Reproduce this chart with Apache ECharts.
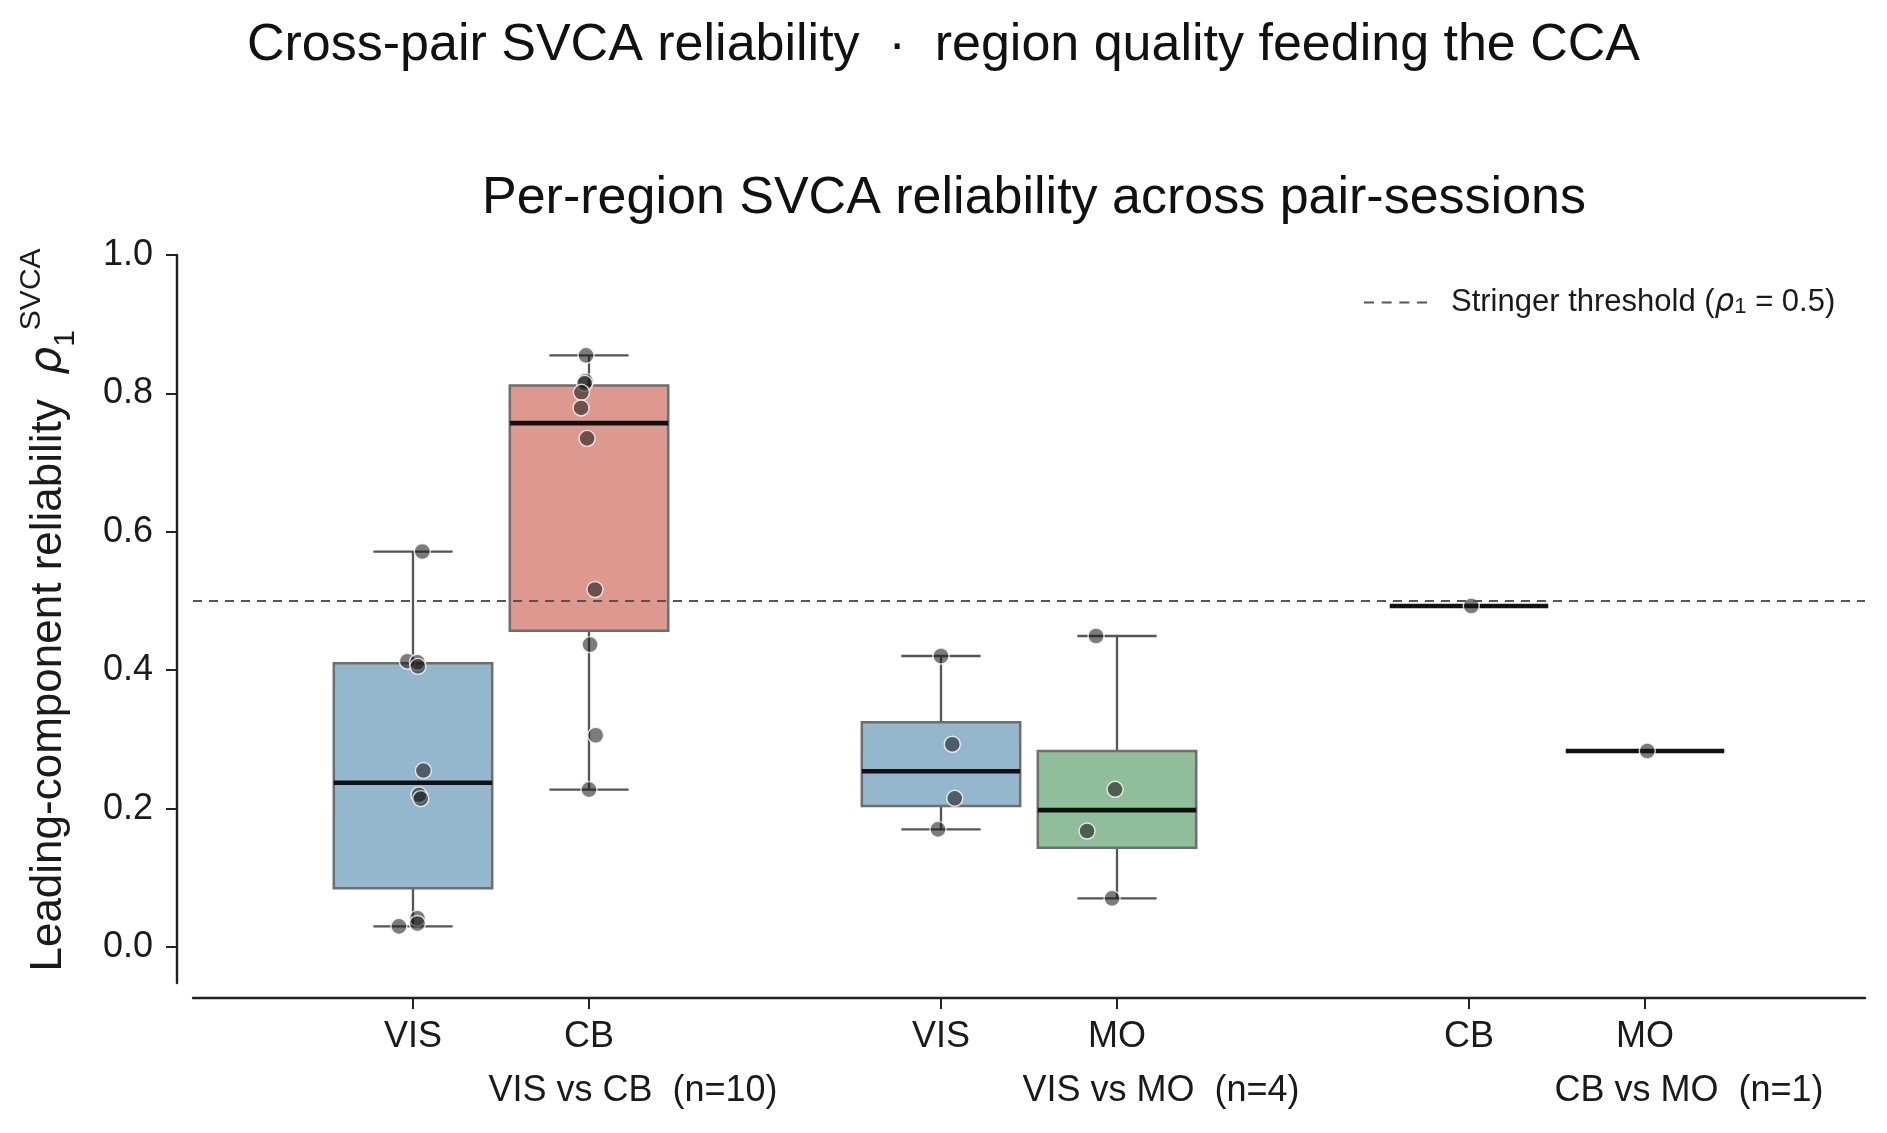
<!DOCTYPE html>
<html>
<head>
<meta charset="utf-8">
<title>Cross-pair SVCA reliability</title>
<script src="https://cdn.jsdelivr.net/npm/echarts@6/dist/echarts.min.js"></script>
<style>
  html, body { margin: 0; padding: 0; background: #fff; }
  #chart { width: 1887px; height: 1133px; }
</style>
</head>
<body>
<div id="chart"></div>
<script>
// 区域 / 配对
const pairLabels = ['VIS vs CB  (n=10)', 'VIS vs MO  (n=4)', 'CB vs MO  (n=1)'];
const pairLabelPositions = [1.25, 4.25, 7.25];
const regionLabels = ['VIS', 'CB', 'VIS', 'MO', 'CB', 'MO'];
const regionPositions = [0, 1, 3, 4, 6, 7];
const yTicks = [0, 0.2, 0.4, 0.6, 0.8, 1.0];
const threshold = 0.5;

// 每个 pair-session 的 rho_1 值
const visCbVIS = [0.5715, 0.413, 0.4115, 0.4056, 0.255, 0.2198, 0.2145, 0.0416, 0.034, 0.0298];
const visCbCB = [0.855, 0.8177, 0.8146, 0.8016, 0.779, 0.735, 0.5166, 0.437, 0.306, 0.2275];
const visMoVIS = [0.4205, 0.293, 0.2149, 0.170];
const visMoMO = [0.4494, 0.2279, 0.1676, 0.0703];
const cbMoCB = [0.4928];
const cbMoMO = [0.2832];

// stripplot 的水平抖动（类别单位）
const visCbVISJitter = [0.053, -0.032, 0.025, 0.028, 0.059, 0.034, 0.044, 0.025, 0.025, -0.08];
const visCbCBJitter = [-0.017, -0.02, -0.025, -0.043, -0.045, -0.011, 0.034, 0.006, 0.038, 0];
const visMoVISJitter = [0, 0.064, 0.078, -0.017];
const visMoMOJitter = [-0.119, -0.011, -0.17, -0.028];
const cbMoCBJitter = [0.013];
const cbMoMOJitter = [0.013];

const regionValues = [visCbVIS, visCbCB, visMoVIS, visMoMO, cbMoCB, cbMoMO];
const regionJitter = [visCbVISJitter, visCbCBJitter, visMoVISJitter, visMoMOJitter, cbMoCBJitter, cbMoMOJitter];

const COLORS = { VIS: '#94B7CE', CB: '#DD9890', MO: '#91BE9A' };
const FONT = '"Liberation Sans", Arial, Helvetica, sans-serif';
const TEXT = '#1a1a1a';
const X_MIN = -1.25, X_MAX = 8.25;
const BOX_W = 0.9;
const CAP_W = 0.45;
// 图例里的虚线图标（4 段）
const DASH_ICON = 'path://M0,0H9V2H0Z M16,0H25V2H16Z M32,0H41V2H32Z M48,0H57V2H48Z';

// 线性插值分位数（同 numpy）
function quantile(sorted, p) {
  const idx = (sorted.length - 1) * p;
  const lo = Math.floor(idx), hi = Math.ceil(idx);
  return sorted[lo] + (sorted[hi] - sorted[lo]) * (idx - lo);
}

function boxStats(values) {
  const s = values.slice().sort((a, b) => a - b);
  const q1 = quantile(s, 0.25), med = quantile(s, 0.5), q3 = quantile(s, 0.75);
  const iqr = q3 - q1;
  const lo = s.find((v) => v >= q1 - 1.5 * iqr);
  const hi = s.slice().reverse().find((v) => v <= q3 + 1.5 * iqr);
  return [lo, q1, med, q3, hi];
}

const boxData = regionValues.map((vals, i) => [regionPositions[i], ...boxStats(vals), i]);
const pointData = regionValues.flatMap((vals, i) =>
  vals.map((v, j) => [regionPositions[i] + regionJitter[i][j], v])
);

const chart = echarts.init(document.getElementById('chart'), null, { renderer: 'canvas' });

const option = {
  animation: false,
  backgroundColor: '#fff',
  textStyle: { fontFamily: FONT, color: TEXT },
  title: [
    {
      text: 'Cross-pair SVCA reliability  ·  region quality feeding the CCA',
      left: 'center',
      top: 15,
      textStyle: { fontFamily: FONT, fontSize: 52, fontWeight: 'normal', color: '#111' },
    },
    {
      text: 'Per-region SVCA reliability across pair-sessions',
      left: 1029,
      textAlign: 'center',
      top: 168,
      textStyle: { fontFamily: FONT, fontSize: 52, fontWeight: 'normal', color: '#111' },
    },
  ],
  legend: {
    left: 1359,
    top: 282,
    itemWidth: 63,
    itemHeight: 2.4,
    data: [{ name: 'Stringer threshold', icon: DASH_ICON }],
    itemStyle: { color: '#555', borderWidth: 0 },
    formatter: () => 'Stringer threshold ({rho|ρ}{sub|1} = 0.5)',
    textStyle: {
      fontFamily: FONT,
      fontSize: 31,
      color: TEXT,
      padding: [0, 0, 0, 19],
      rich: {
        rho: { fontFamily: '"DejaVu Sans"', fontStyle: 'italic', fontSize: 31, color: TEXT },
        sub: { fontSize: 22, verticalAlign: 'bottom', lineHeight: 22, color: TEXT },
      },
    },
  },
  grid: { left: 193, right: 22, top: 255, bottom: 150, containLabel: false },
  xAxis: [
    {
      type: 'value',
      min: X_MIN,
      max: X_MAX,
      offset: 15,
      splitLine: { show: false },
      axisLine: { show: true, onZero: false, lineStyle: { color: '#222', width: 2.4 } },
      axisTick: {
        show: true,
        customValues: regionPositions,
        length: 11,
        lineStyle: { color: '#222', width: 2 },
      },
      axisLabel: {
        customValues: regionPositions,
        formatter: (v) => regionLabels[regionPositions.indexOf(v)],
        fontFamily: FONT,
        fontSize: 36,
        color: TEXT,
        margin: 21,
      },
    },
    {
      type: 'value',
      position: 'bottom',
      min: X_MIN,
      max: X_MAX,
      offset: 15,
      splitLine: { show: false },
      axisLine: { show: false, onZero: false },
      axisTick: { show: false },
      axisLabel: {
        customValues: pairLabelPositions,
        formatter: (v) => pairLabels[pairLabelPositions.indexOf(v)],
        fontFamily: FONT,
        fontSize: 36,
        color: TEXT,
        margin: 75,
      },
    },
  ],
  yAxis: {
    type: 'value',
    min: -0.052,
    max: 1.0,
    offset: 16,
    splitLine: { show: false },
    axisLine: { show: true, onZero: false, lineStyle: { color: '#222', width: 2.4 } },
    axisTick: {
      show: true,
      customValues: yTicks,
      length: 11,
      lineStyle: { color: '#222', width: 2 },
    },
    axisLabel: {
      customValues: yTicks,
      formatter: (v) => v.toFixed(1),
      fontFamily: FONT,
      fontSize: 36,
      color: TEXT,
      margin: 24,
    },
    name: 'Leading-component reliability  {rho|ρ}{sub|1}{sup|SVCA}',
    nameLocation: 'middle',
    nameRotate: 90,
    nameGap: 96,
    nameTextStyle: {
      fontFamily: FONT,
      fontSize: 44,
      color: TEXT,
      lineHeight: 64,
      padding: [0, 0, 0, 18],
      rich: {
        rho: { fontFamily: '"DejaVu Sans"', fontStyle: 'italic', fontSize: 44, lineHeight: 64, color: TEXT },
        sub: { fontSize: 30, lineHeight: 30, verticalAlign: 'bottom', color: TEXT },
        sup: { fontSize: 30, lineHeight: 30, verticalAlign: 'top', color: TEXT },
      },
    },
  },
  series: [
    {
      name: 'boxes',
      type: 'custom',
      z: 2,
      silent: true,
      encode: { x: 0, y: [1, 2, 3, 4, 5] },
      data: boxData,
      renderItem: (params, api) => {
        const x = api.value(0);
        const [lo, q1, med, q3, hi] = [1, 2, 3, 4, 5].map((d) => api.value(d));
        const color = COLORS[regionLabels[api.value(6)]];
        const halfBox = api.size([BOX_W, 0])[0] / 2;
        const halfCap = api.size([CAP_W, 0])[0] / 2;
        const [cx, yLo] = api.coord([x, lo]);
        const yQ1 = api.coord([x, q1])[1];
        const yMed = api.coord([x, med])[1];
        const yQ3 = api.coord([x, q3])[1];
        const yHi = api.coord([x, hi])[1];
        const lineStyle = { stroke: '#555', lineWidth: 2.3 };
        return {
          type: 'group',
          children: [
            { type: 'line', shape: { x1: cx, y1: yLo, x2: cx, y2: yQ1 }, style: lineStyle },
            { type: 'line', shape: { x1: cx, y1: yQ3, x2: cx, y2: yHi }, style: lineStyle },
            { type: 'line', shape: { x1: cx - halfCap, y1: yLo, x2: cx + halfCap, y2: yLo }, style: lineStyle },
            { type: 'line', shape: { x1: cx - halfCap, y1: yHi, x2: cx + halfCap, y2: yHi }, style: lineStyle },
            {
              type: 'rect',
              shape: { x: cx - halfBox, y: yQ3, width: halfBox * 2, height: yQ1 - yQ3 },
              style: { fill: color, stroke: '#6e6e6e', lineWidth: 2.5 },
            },
            {
              type: 'line',
              shape: { x1: cx - halfBox, y1: yMed, x2: cx + halfBox, y2: yMed },
              style: { stroke: '#111', lineWidth: 4.6 },
            },
          ],
        };
      },
    },
    {
      name: 'Stringer threshold',
      type: 'line',
      z: 3,
      data: [],
      symbol: 'none',
      lineStyle: { color: '#555', width: 2, type: [9, 7] },
      itemStyle: { color: '#555' },
      markLine: {
        silent: true,
        symbol: ['none', 'none'],
        label: { show: false },
        lineStyle: { color: '#555', width: 2, type: [9, 7] },
        data: [{ yAxis: threshold }],
      },
    },
    {
      name: 'points',
      type: 'scatter',
      z: 4,
      silent: true,
      symbolSize: 16,
      data: pointData,
      itemStyle: {
        color: 'rgba(25,25,25,0.57)',
        borderColor: 'rgba(255,255,255,0.8)',
        borderWidth: 1.4,
        opacity: 1,
      },
    },
  ],
};

chart.setOption(option);
window.addEventListener('resize', () => chart.resize());
</script>
</body>
</html>
